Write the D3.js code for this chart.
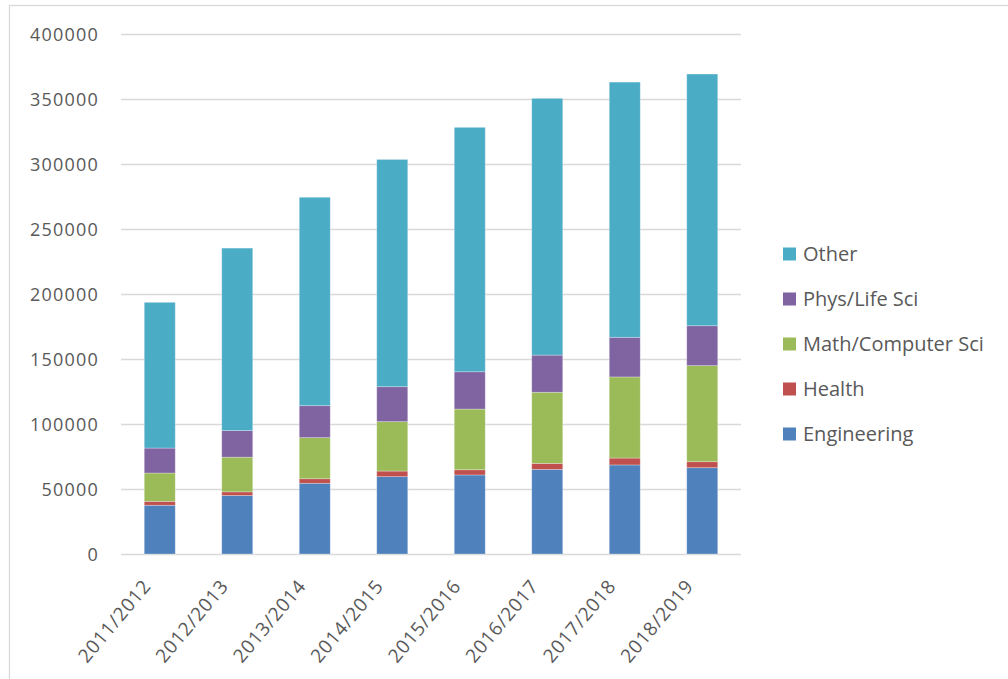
<!DOCTYPE html>
<html>
<head>
<meta charset="utf-8">
<script src="https://cdn.jsdelivr.net/npm/d3@7"></script>
<style>
  html, body { margin: 0; padding: 0; background: #fff; }
  svg { display: block; }
  text { font-family: "Open Sans", sans-serif; fill: #595959; }
</style>
</head>
<body>
<svg id="chart" width="1008" height="679"></svg>
<script>
const categories = ["2011/2012", "2012/2013", "2013/2014", "2014/2015", "2015/2016", "2016/2017", "2017/2018", "2018/2019"];
const seriesNames = ["Engineering", "Health", "Math/Computer Sci", "Phys/Life Sci", "Other"];
const engineering = [37500, 45000, 54400, 59500, 60800, 65100, 68500, 66400];
const health      = [3000, 2800, 3500, 4300, 4000, 4600, 5300, 4600];
const mathComp    = [21800, 26700, 31600, 38000, 46700, 54700, 62400, 73900];
const physLife    = [19200, 20500, 24600, 26900, 28700, 28600, 30500, 30700];
const other       = [112100, 140300, 160300, 174800, 188000, 197500, 196300, 193600];
const yTicks = [0, 50000, 100000, 150000, 200000, 250000, 300000, 350000, 400000];
const colors = ["#4f81bd", "#c0504d", "#9bbb59", "#8064a2", "#4bacc6"];

const seriesValues = [engineering, health, mathComp, physLife, other];
const rows = categories.map((c, i) => {
  const r = { cat: c };
  seriesNames.forEach((s, k) => r[s] = seriesValues[k][i]);
  return r;
});

const svg = d3.select("#chart");
// outer chart border
svg.append("rect").attr("x", 9.5).attr("y", 5.5).attr("width", 1100).attr("height", 1000)
  .attr("fill", "#fff").attr("stroke", "#d9d9d9").attr("stroke-width", 1.3);

const plot = { left: 121, right: 741, top: 34, bottom: 554 };
const x = d3.scaleBand().domain(categories).range([plot.left, plot.right]).paddingInner(0.6).paddingOuter(0.3);
const y = d3.scaleLinear().domain([0, 400000]).range([plot.bottom, plot.top]);

// gridlines
const grid = svg.append("g").attr("transform", `translate(${plot.left},0)`)
  .call(d3.axisLeft(y).tickValues(yTicks).tickSize(-(plot.right - plot.left)).tickFormat(""));
grid.select(".domain").remove();
grid.selectAll("line").attr("stroke", "#d9d9d9").attr("stroke-width", 1.3);

// y labels
const yAx = svg.append("g").attr("transform", `translate(99,0)`)
  .call(d3.axisLeft(y).tickValues(yTicks).tickSize(0).tickPadding(0).tickFormat(d3.format("d")));
yAx.select(".domain").remove();
yAx.selectAll("text").attr("font-size", 18).attr("letter-spacing", 1.2)
  .style("font-family", "'Open Sans', sans-serif").attr("fill", "#595959").attr("dy", "0.35em");

// stacked bars
const stack = d3.stack().keys(seriesNames)(rows);
svg.append("g").selectAll("g").data(stack).join("g")
  .attr("fill", (d, i) => colors[i])
  .selectAll("rect").data(d => d).join("rect")
  .attr("x", d => x(d.data.cat))
  .attr("width", x.bandwidth())
  .attr("y", d => y(d[1]))
  .attr("height", d => y(d[0]) - y(d[1]))
  .attr("stroke", "#ffffff").attr("stroke-opacity", 0.35).attr("stroke-width", 0.8);

// x labels
const xAx = svg.append("g").attr("transform", `translate(0,${plot.bottom})`)
  .call(d3.axisBottom(x).tickSize(0).tickPadding(0));
xAx.select(".domain").remove();
xAx.selectAll("text")
  .attr("font-size", 19).attr("letter-spacing", 0.8)
  .style("font-family", "'Open Sans', sans-serif").attr("fill", "#595959")
  .attr("text-anchor", "end")
  .attr("transform", "translate(-18,24) rotate(-50)")
  .attr("dy", "0.7em").attr("y", 0).attr("x", 0);

// legend
const legendOrder = [4, 3, 2, 1, 0];
const leg = svg.append("g");
legendOrder.forEach((k, j) => {
  const cy = 254 + j * 45;
  leg.append("rect").attr("x", 783).attr("y", cy - 6.5).attr("width", 13).attr("height", 13).attr("fill", colors[k]);
  leg.append("text").attr("x", 803).attr("y", cy).attr("dy", "0.36em")
    .attr("font-size", 20).attr("fill", "#595959").text(seriesNames[k]);
});
</script>
</body>
</html>
